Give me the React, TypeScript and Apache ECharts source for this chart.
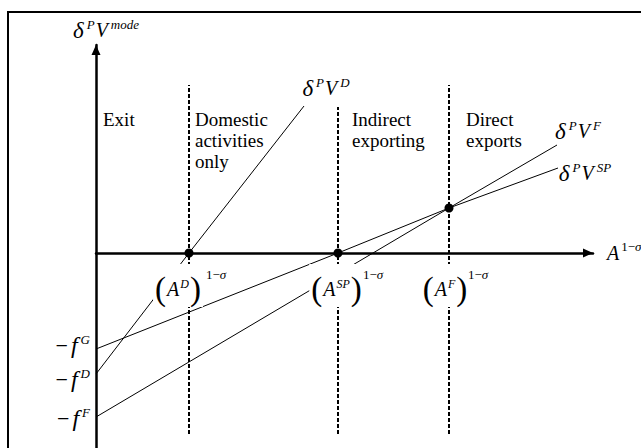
import React, { useEffect, useRef } from 'react';
import * as echarts from 'echarts';

const MATH = "'Liberation Serif', 'Times New Roman', serif";

// cut-off levels on the horizontal axis: (A^D)^{1-σ}, (A^SP)^{1-σ}, (A^F)^{1-σ}
const thresholdX = [9.3, 24.2, 35.3];
const thresholdSup = ['D', 'SP', 'F'];
const dashTop = [16.8, 14.6, 16.8];
const dashBottom = -18.1;

// intercepts: -f^G, -f^D, -f^F
const fixedCostSup = ['G', 'D', 'F'];
const fixedCostY = [-9.6, -12.1, -16.4];

// profit lines
const profitD = [[0, -12.1], [9.3, 0], [20.8, 14.7]];
const profitSP = [[0, -9.6], [24.2, 0], [35.3, 4.5], [46.2, 8.5]];
const profitF = [[0, -16.4], [35.3, 4.5], [46.1, 10.8]];
const profitSup = ['D', 'SP', 'F'];

const cutoffPoints = [[9.3, 0], [24.2, 0], [35.3, 4.5]];

const regimeNames = ['Exit', 'Domestic\nactivities\nonly', 'Indirect\nexporting', 'Direct\nexports'];
const regimeStartX = [0, 9.3, 24.2, 35.3];

const xRange = [0, 49.7];
const yRange = [-19.5, 20.8];

const rich: any = {
  d: { fontFamily: MATH, fontStyle: 'italic', fontSize: 23, lineHeight: 26, color: '#000' },
  m: { fontFamily: MATH, fontStyle: 'italic', fontSize: 20, lineHeight: 26, color: '#000', padding: [0, 0, 0, 1] },
  f: { fontFamily: MATH, fontStyle: 'italic', fontSize: 24, lineHeight: 26, color: '#000', padding: [0, 0, 0, 2] },
  u: { fontFamily: MATH, fontSize: 22, lineHeight: 26, color: '#000', padding: [0, 1, 0, 0] },
  s: { fontFamily: MATH, fontStyle: 'italic', fontSize: 13, verticalAlign: 'top', color: '#000', padding: [1, 0, 0, 3] },
  su: { fontFamily: MATH, fontSize: 13, verticalAlign: 'top', color: '#000', padding: [0, 0, 0, 2] },
  ss: { fontFamily: MATH, fontStyle: 'italic', fontSize: 13, verticalAlign: 'top', color: '#000' },
  si: { fontFamily: MATH, fontStyle: 'italic', fontSize: 12, verticalAlign: 'top', color: '#000', padding: [6, 1, 0, 1] },
  p: { fontFamily: MATH, fontSize: 33, lineHeight: 34, color: '#000' },
  t: { fontFamily: MATH, fontSize: 19, lineHeight: 21, color: '#000' },
};

const vLabel = (sup: string) => `{d|δ}{s|P}{m|V}{s|${sup}}`;
const parenLabel = (sup: string) => `{p|(}{m|A}{si|${sup}}{p|)}`;
const powerLabel = `{su|1−}{ss|σ}`;
const fLabel = (sup: string) => `{u|−}{f|f}{s|${sup}}`;
const xName = `{m|A}{su|1−}{ss|σ}`;

export default function App() {
  const ref = useRef<HTMLDivElement>(null);
  useEffect(() => {
    if (!ref.current) return;
    const chart = echarts.init(ref.current, null, { renderer: 'svg' });

    const labelTexts: string[] = [];
    const labelItems: any[] = [];
    const add = (value: number[], text: string, label: any) => {
      labelTexts.push(text);
      labelItems.push({ value, label });
    };

    // regime labels
    const regimeDx = [7, 6, 14, 17];
    regimeNames.forEach((n, i) => {
      const txt = n.split('\n').map((l) => `{t|${l}}`).join('\n');
      add([regimeStartX[i], 0], txt, { align: 'left', verticalAlign: 'top', offset: [regimeDx[i], -144.5] });
    });
    // threshold labels: bracket part (white box) and exponent part
    const parenDx = [-11, -1.5, -4];
    const powerDx = [15, 23, 17];
    thresholdX.forEach((x, i) => {
      add([x, 0], parenLabel(thresholdSup[i]), {
        offset: [parenDx[i], 32.5], backgroundColor: '#fff', padding: [8, 2, 1, 2],
      });
      add([x, 0], powerLabel, { align: 'left', offset: [powerDx[i], 21] });
    });
    // intercept labels
    const fOff = [[-6, -4], [-6, 5], [-6, 1]];
    fixedCostY.forEach((y, i) => {
      add([0, y], fLabel(fixedCostSup[i]), { align: 'right', offset: fOff[i] });
    });
    // profit line labels
    const ends = [profitD, profitSP, profitF].map((d) => d[d.length - 1]);
    const vOff = [[22, -18], [27, 5], [21, -14]];
    ends.forEach((pt, i) => {
      add(pt, vLabel(profitSup[i]), { offset: vOff[i] });
    });

    const thin = { color: '#000', width: 1 };
    chart.setOption({
      animation: false,
      backgroundColor: '#fff',
      grid: { left: 96, right: 48, top: 45, bottom: 0, containLabel: false, outerBoundsMode: 'none' },
      xAxis: {
        type: 'value', min: xRange[0], max: xRange[1],
        axisLine: {
          show: true, onZero: true, symbol: ['none', 'triangle'], symbolSize: [9, 10], symbolOffset: [0, -5],
          lineStyle: { color: '#000', width: 2.5 },
        },
        axisTick: { show: false }, axisLabel: { show: false }, splitLine: { show: false },
        name: xName, nameLocation: 'end', nameGap: 13,
        nameTextStyle: { rich },
      },
      yAxis: {
        type: 'value', min: yRange[0], max: yRange[1],
        axisLine: {
          show: true, onZero: true, symbol: ['none', 'triangle'], symbolSize: [9, 10], symbolOffset: [0, -5],
          lineStyle: { color: '#000', width: 2.5 },
        },
        axisTick: { show: false }, axisLabel: { show: false }, splitLine: { show: false },
        name: vLabel('mode'), nameLocation: 'end', nameGap: 2,
        nameTextStyle: { rich, padding: [0, 0, 0, 20] },
      },
      graphic: [
        { type: 'line', shape: { x1: 7, y1: 12, x2: 641, y2: 12 }, style: { stroke: '#000', lineWidth: 2 } },
        { type: 'line', shape: { x1: 8, y1: 11, x2: 8, y2: 448 }, style: { stroke: '#000', lineWidth: 2 } },
      ],
      series: [
        ...thresholdX.map((x, i) => ({
          type: 'line', data: [[x, dashBottom], [x, dashTop[i]]], symbol: 'none', silent: true, z: 2,
          lineStyle: { color: '#000', width: 2, type: [4, 2] },
        })),
        { type: 'line', data: profitD, symbol: 'none', lineStyle: thin, z: 3, silent: true },
        { type: 'line', data: profitSP, symbol: 'none', lineStyle: thin, z: 3, silent: true },
        { type: 'line', data: profitF, symbol: 'none', lineStyle: thin, z: 3, silent: true },
        { type: 'scatter', data: cutoffPoints, symbolSize: 9, itemStyle: { color: '#000', opacity: 1 }, z: 4, silent: true },
        {
          type: 'scatter', data: labelItems, symbolSize: 1, itemStyle: { color: 'transparent', opacity: 1 }, z: 6, silent: true,
          label: {
            show: true, position: 'inside', rich,
            formatter: (p: any) => labelTexts[p.dataIndex],
          },
        },
      ],
    });
    return () => chart.dispose();
  }, []);
  return <div ref={ref} style={{ position: 'fixed', left: 0, top: 0, width: 641, height: 448 }} />;
}
